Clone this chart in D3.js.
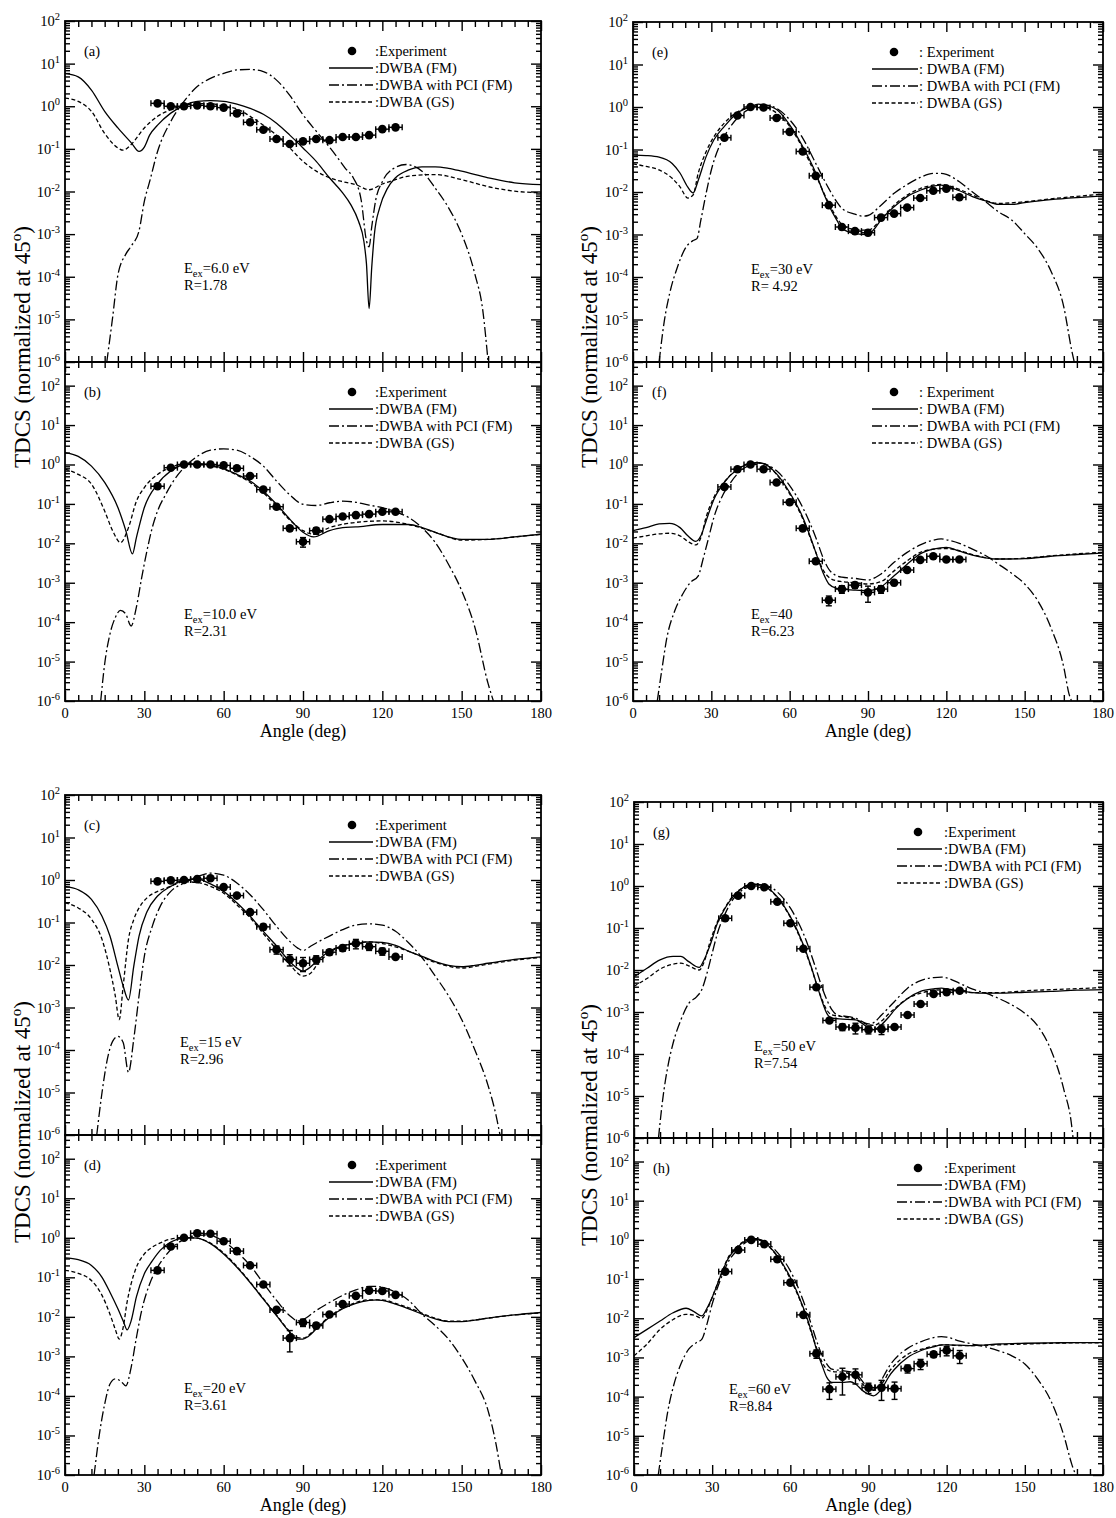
<!DOCTYPE html>
<html>
<head>
<meta charset="utf-8">
<script src="https://cdn.jsdelivr.net/npm/d3@7"></script>
<style>
  body { margin: 0; background: #fff; }
  svg { display: block; font-family: "Liberation Serif", "Times New Roman", serif; }
</style>
</head>
<body>
<div id="chart"></div>
<script>

// ---- data: [angle (deg), TDCS] ----

var expAngles = [35, 40, 45, 50, 55, 60, 65, 70, 75, 80, 85, 90, 95, 100, 105, 110, 115, 120, 125];
var xTicks = [0, 30, 60, 90, 120, 150, 180];

// (a) Eex = 6.0 eV
var fmA = [[0,5.9],[5,4.9],[10,2.4],[15,0.76],[20,0.31],[25,0.14],[28,0.087],[30,0.11],[32,0.21],[35,0.36],[40,0.69],[45,1.05],[50,1.3],[55,1.35],[60,1.3],[65,1.12],[70,0.89],[75,0.65],[80,0.4],[85,0.21],[90,0.105],[95,0.051],[100,0.021],[105,0.0093],[108,0.005],[111,0.002],[113,6.9e-4],[114,2e-4],[115,1.8e-5],[116,1.7e-4],[117,1e-3],[119,4.2e-3],[122,0.012],[125,0.021],[130,0.032],[135,0.038],[140,0.038],[145,0.035],[150,0.03],[160,0.021],[170,0.016],[180,0.0145]];
var pciA = [[15.8,1e-6],[18,1.1e-5],[20,1.1e-4],[23,3.4e-4],[25,5.2e-4],[28,1.2e-3],[30,5.9e-3],[32,0.017],[35,0.087],[40,0.44],[45,1.3],[50,2.9],[55,4.5],[60,5.9],[65,7.1],[70,7.3],[75,6.5],[80,4.1],[85,1.8],[90,0.63],[95,0.26],[100,0.11],[103,0.063],[106,0.035],[109,0.021],[112,6.3e-3],[114,7e-4],[115,5e-4],[116,1.5e-3],[117.5,6.3e-3],[120,0.017],[124,0.034],[129,0.043],[132,0.039],[135,0.03],[140,0.012],[145,4.2e-3],[150,1e-3],[155,1.15e-4],[158,1.6e-5],[160,1e-6]];
var gsA = [[0,1.55],[5,1.3],[10,0.76],[15,0.23],[20,0.105],[22,0.093],[25,0.126],[30,0.31],[35,0.58],[40,0.83],[45,1.05],[50,1.15],[55,1.15],[60,1.0],[65,0.87],[70,0.58],[75,0.36],[80,0.21],[85,0.105],[90,0.051],[95,0.03],[100,0.021],[105,0.017],[110,0.0145],[115,0.011],[120,0.015],[125,0.019],[130,0.023],[140,0.025],[150,0.019],[160,0.013],[170,0.0102],[180,0.0093]];
var expA = [1.17, 1.0, 1.0, 1.05, 1.0, 0.93, 0.68, 0.42, 0.28, 0.17, 0.13, 0.15, 0.17, 0.16, 0.19, 0.19, 0.21, 0.29, 0.32];
var errA = [0, 0, 0, 0, 0, 0, 0, 0, 0, 0, 0, 0, 0, 0, 0, 0, 0, 0, 0];

// (b) Eex = 10.0 eV
var fmB = [[0,2.0],[5,1.6],[10,0.91],[15,0.35],[20,0.081],[23,0.021],[25.5,5.4e-3],[27,0.014],[30,0.081],[35,0.32],[40,0.68],[45,1.0],[50,1.05],[55,0.98],[60,0.79],[65,0.56],[70,0.38],[75,0.21],[80,0.098],[85,0.041],[90,0.019],[94,0.0145],[100,0.021],[105,0.025],[110,0.026],[120,0.03],[130,0.03],[135,0.025],[140,0.019],[150,0.0126],[160,0.0126],[170,0.0145],[180,0.017]];
var pciB = [[13.5,1e-6],[15,8.7e-6],[17,5e-5],[19,1.3e-4],[21,2e-4],[23,1.6e-4],[25,8e-5],[27,2.4e-4],[29,1.35e-3],[31,6.5e-3],[33,0.025],[35,0.066],[38,0.17],[41,0.38],[45,0.83],[50,1.6],[55,2.3],[60,2.5],[65,2.3],[70,1.6],[75,0.91],[80,0.38],[85,0.17],[90,0.098],[95,0.091],[100,0.107],[105,0.117],[110,0.11],[115,0.093],[120,0.081],[125,0.063],[130,0.045],[135,0.025],[140,0.0105],[145,2.95e-3],[150,6.3e-4],[155,7.4e-5],[160,2.75e-6],[162,1e-6]];
var gsB = [[0,0.76],[5,0.56],[10,0.32],[15,0.066],[18,0.021],[21,0.0105],[24,0.025],[27,0.117],[30,0.26],[35,0.56],[40,0.83],[45,1.05],[50,1.0],[55,0.93],[60,0.76],[65,0.54],[70,0.35],[75,0.19],[80,0.089],[85,0.039],[90,0.021],[94,0.017],[100,0.025],[110,0.034],[120,0.037],[130,0.03],[140,0.019],[150,0.012],[160,0.0126],[170,0.0145],[180,0.017]];
var expB = [0.28, 0.83, 1.0, 1.0, 1.0, 0.95, 0.8, 0.51, 0.23, 0.085, 0.024, 0.011, 0.021, 0.041, 0.048, 0.052, 0.055, 0.063, 0.063];
var errB = [0, 0, 0, 0, 0, 0, 0, 0, 0, 0, 0.003, 0.003, 0.004, 0, 0, 0, 0, 0, 0];

// (c) Eex = 15 eV
var fmC = [[0,0.71],[5,0.59],[10,0.35],[14,0.14],[17,0.048],[20,9.3e-3],[22,3.2e-3],[24,1.5e-3],[26,9.3e-3],[28,0.048],[31,0.18],[35,0.42],[40,0.71],[45,1.0],[50,1.05],[55,0.81],[60,0.54],[65,0.29],[70,0.14],[75,0.062],[80,0.028],[85,0.012],[88,8.2e-3],[90,7.2e-3],[92,8.2e-3],[95,0.012],[100,0.021],[105,0.028],[110,0.032],[115,0.035],[120,0.034],[125,0.029],[130,0.021],[135,0.016],[140,0.012],[145,9.8e-3],[150,9.1e-3],[155,9.8e-3],[160,0.011],[170,0.0135],[180,0.0155]];
var pciC = [[12,1e-6],[14,1e-5],[16,6e-5],[18,1.6e-4],[20,2.1e-4],[22,1.5e-4],[24,3e-5],[26,1.8e-4],[28,1.9e-3],[30,0.016],[33,0.081],[36,0.24],[40,0.54],[45,0.85],[50,1.2],[55,1.45],[60,1.3],[65,0.85],[70,0.45],[75,0.2],[80,0.081],[85,0.036],[88,0.025],[90,0.022],[93,0.028],[95,0.033],[100,0.048],[105,0.068],[110,0.087],[115,0.093],[120,0.087],[125,0.062],[130,0.033],[135,0.015],[140,5.5e-3],[145,1.9e-3],[150,5.2e-4],[155,1e-4],[160,1.45e-5],[163,2.9e-6],[164.5,1e-6]];
var gsC = [[0,0.29],[5,0.22],[10,0.12],[14,0.04],[17,7.9e-3],[19,1.9e-3],[20.5,5.2e-4],[22,3.2e-3],[24,0.04],[26,0.117],[28,0.22],[31,0.38],[35,0.54],[40,0.71],[45,0.91],[50,0.87],[55,0.71],[60,0.49],[65,0.26],[70,0.129],[75,0.055],[80,0.023],[85,0.0102],[90,5.5e-3],[93,6.5e-3],[95,9.5e-3],[100,0.0195],[105,0.028],[110,0.033],[115,0.035],[120,0.032],[130,0.021],[140,0.0115],[150,8.5e-3],[160,0.0105],[170,0.013],[180,0.015]];
var expC = [0.93, 0.98, 1.0, 1.05, 1.1, 0.68, 0.43, 0.175, 0.079, 0.023, 0.0135, 0.011, 0.0135, 0.02, 0.025, 0.032, 0.027, 0.021, 0.0155];
var errC = [0, 0, 0, 0, 0, 0, 0, 0.02, 0.012, 0.005, 0.004, 0.004, 0.003, 0.003, 0.004, 0.008, 0.005, 0.004, 0];

// (d) Eex = 20 eV
var fmD = [[0,0.31],[5,0.28],[10,0.2],[14,0.1],[17,0.042],[20,0.016],[22,7.9e-3],[23.5,4.7e-3],[25,7.9e-3],[27,0.032],[30,0.123],[33,0.26],[36,0.48],[40,0.78],[45,0.98],[48,1.0],[50,0.98],[55,0.71],[60,0.39],[65,0.18],[70,0.074],[75,0.028],[80,0.0107],[85,4.1e-3],[88,2.75e-3],[90,2.75e-3],[92,3.2e-3],[95,4.9e-3],[100,9.8e-3],[105,0.016],[110,0.022],[115,0.026],[118,0.027],[120,0.026],[125,0.021],[130,0.016],[135,0.0117],[140,8.9e-3],[145,7.6e-3],[150,7.6e-3],[155,8.3e-3],[160,9.3e-3],[170,0.0112],[180,0.0129]];
var pciD = [[11,1e-6],[13,1.07e-5],[15,6.2e-5],[17,2e-4],[19,2.7e-4],[21,2.4e-4],[23,1.8e-4],[25,5.2e-4],[27,3e-3],[29,0.0145],[32,0.068],[35,0.18],[38,0.35],[42,0.68],[45,0.91],[50,1.15],[53,1.17],[55,1.15],[60,0.81],[65,0.44],[70,0.2],[75,0.071],[80,0.026],[85,0.0107],[88,7.9e-3],[90,8.5e-3],[95,0.0145],[100,0.023],[105,0.035],[110,0.048],[115,0.059],[118,0.059],[120,0.056],[125,0.042],[130,0.026],[135,0.0117],[140,6e-3],[145,2.75e-3],[150,9.3e-4],[155,2.4e-4],[160,4.2e-5],[163,6e-6],[165,1e-6]];
var gsD = [[0,0.15],[5,0.126],[10,0.083],[14,0.035],[17,0.0117],[19,4.9e-3],[20.5,2.75e-3],[22,5.4e-3],[23.5,0.024],[25,0.068],[27,0.18],[30,0.39],[33,0.58],[36,0.74],[40,0.93],[45,1.0],[48,1.0],[50,0.98],[55,0.74],[60,0.41],[65,0.19],[70,0.076],[75,0.029],[80,0.011],[85,4.3e-3],[88,3.0e-3],[90,2.9e-3],[95,5.2e-3],[100,0.0102],[105,0.0165],[110,0.023],[115,0.027],[120,0.027],[125,0.022],[130,0.017],[140,9.3e-3],[145,7.8e-3],[150,7.8e-3],[160,9.3e-3],[170,0.0112],[180,0.0126]];
var expD = [0.15, 0.6, 1.0, 1.3, 1.26, 0.82, 0.46, 0.2, 0.066, 0.015, 0.0029, 0.0072, 0.006, 0.0115, 0.021, 0.034, 0.046, 0.045, 0.036];
var errD = [0, 0, 0, 0, 0, 0, 0, 0, 0, 0, 0.0016, 0.0015, 0.001, 0, 0, 0, 0, 0, 0];

// (e) Eex = 30 eV
var fmE = [[0,0.074],[5,0.072],[10,0.066],[15,0.047],[18,0.028],[21,0.013],[23,9.5e-3],[25,0.019],[28,0.068],[31,0.17],[35,0.35],[40,0.72],[45,1.02],[48,1.17],[50,1.12],[55,0.87],[60,0.38],[65,0.117],[70,0.028],[73,9.3e-3],[75,4.9e-3],[78,2.2e-3],[80,1.4e-3],[85,1.05e-3],[90,1.0e-3],[93,1.5e-3],[95,2.2e-3],[100,4.5e-3],[105,7.8e-3],[110,0.011],[115,0.0138],[118,0.0145],[120,0.0138],[125,0.0107],[130,7.8e-3],[135,6.2e-3],[140,5.1e-3],[145,5.1e-3],[150,5.6e-3],[160,6.6e-3],[170,7.4e-3],[180,8.1e-3]];
var pciE = [[10,1e-6],[12,9.3e-6],[14,4e-5],[17,1.7e-4],[20,4.7e-4],[23,7.2e-4],[24.5,8e-4],[26,2.2e-3],[28,9.3e-3],[30,0.033],[33,0.117],[36,0.26],[40,0.55],[45,0.93],[50,1.12],[53,1.05],[55,0.93],[60,0.5],[65,0.186],[70,0.047],[75,0.012],[78,5.9e-3],[80,4.1e-3],[85,3.0e-3],[88,2.7e-3],[90,2.8e-3],[95,4.9e-3],[100,9.3e-3],[105,0.015],[110,0.022],[115,0.0275],[118,0.0275],[120,0.026],[125,0.0174],[130,0.01],[135,5.9e-3],[140,3.4e-3],[145,2.2e-3],[150,1.05e-3],[155,4.7e-4],[160,1.4e-4],[165,1.95e-5],[168,1.9e-6],[169,1e-6]];
var gsE = [[0,0.046],[5,0.04],[10,0.033],[15,0.021],[18,0.0132],[21,7.2e-3],[23,8.5e-3],[25,0.028],[28,0.089],[31,0.2],[35,0.42],[40,0.76],[45,1.02],[48,1.05],[50,1.02],[55,0.72],[60,0.35],[65,0.107],[70,0.025],[75,5.4e-3],[80,1.74e-3],[85,1.3e-3],[90,1.26e-3],[95,2.3e-3],[100,4.9e-3],[110,0.012],[118,0.015],[125,0.0115],[130,8.5e-3],[140,5.4e-3],[150,5.9e-3],[160,6.9e-3],[170,7.9e-3],[180,8.9e-3]];
var expE = [0.19, 0.63, 1.0, 0.97, 0.55, 0.26, 0.09, 0.024, 4.9e-3, 1.5e-3, 1.2e-3, 1.1e-3, 2.5e-3, 3.1e-3, 4.3e-3, 7.2e-3, 0.0107, 0.012, 7.5e-3];
var errE = [0, 0, 0, 0, 0, 0, 0, 0, 0, 2e-4, 1.5e-4, 1.5e-4, 0, 0, 0, 0, 0, 0, 0];

// (f) Eex = 40 eV
var fmF = [[0,0.021],[5,0.025],[10,0.031],[14,0.032],[18,0.025],[21,0.0155],[24,0.0112],[26,0.0155],[28,0.037],[31,0.132],[35,0.355],[40,0.76],[45,1.07],[47,1.12],[50,1.05],[55,0.58],[60,0.195],[65,0.046],[68,0.0141],[70,5.9e-3],[73,1.66e-3],[75,9.3e-4],[78,7.2e-4],[80,6.9e-4],[85,6.5e-4],[90,6.3e-4],[95,7.9e-4],[100,1.5e-3],[105,2.95e-3],[110,5.4e-3],[115,7.1e-3],[120,7.9e-3],[125,6.3e-3],[130,5e-3],[135,4.3e-3],[140,4e-3],[150,4.1e-3],[160,4.7e-3],[170,5.2e-3],[180,5.7e-3]];
var pciF = [[9.3,1e-6],[11,5.9e-6],[13,4.1e-5],[16,1.95e-4],[19,5.1e-4],[22,1.02e-3],[25,1.5e-3],[27,4.4e-3],[29,0.0141],[31,0.046],[34,0.148],[37,0.32],[40,0.58],[45,0.98],[48,1.1],[50,1.05],[55,0.69],[60,0.29],[65,0.081],[70,0.0141],[73,4e-3],[75,2.2e-3],[78,1.5e-3],[80,1.38e-3],[85,1.29e-3],[90,1.17e-3],[93,1.38e-3],[95,1.66e-3],[100,3.3e-3],[105,5.9e-3],[110,9.1e-3],[115,0.012],[118,0.0129],[120,0.0123],[125,0.01],[130,7.1e-3],[135,4.9e-3],[140,2.95e-3],[145,1.74e-3],[150,9.3e-4],[155,3.5e-4],[160,7.4e-5],[165,7.1e-6],[167,1.5e-6],[168,1e-6]];
var gsF = [[0,0.0135],[5,0.0155],[10,0.0174],[14,0.018],[18,0.0155],[21,0.0112],[24,9.1e-3],[26,0.014],[28,0.046],[31,0.148],[35,0.36],[40,0.76],[45,1.07],[47,1.1],[50,1.05],[55,0.56],[60,0.18],[65,0.042],[68,0.0132],[70,5.9e-3],[73,2e-3],[75,1.38e-3],[78,1.12e-3],[80,1.07e-3],[85,1.0e-3],[90,9.3e-4],[95,1.07e-3],[100,2e-3],[105,3.6e-3],[110,5.9e-3],[115,7.1e-3],[120,7.4e-3],[125,6.5e-3],[130,5.2e-3],[140,4e-3],[150,4.2e-3],[160,4.8e-3],[170,5.4e-3],[180,5.9e-3]];
var expF = [0.27, 0.76, 1.0, 0.76, 0.35, 0.11, 0.024, 3.5e-3, 3.6e-4, 6.9e-4, 8.7e-4, 5.7e-4, 6.9e-4, 1.0e-3, 2.1e-3, 3.8e-3, 4.7e-3, 3.9e-3, 3.9e-3];
var errF = [0, 0, 0, 0, 0, 0, 0, 0, 1e-4, 1.5e-4, 1.5e-4, 2.5e-4, 1.5e-4, 1.5e-4, 0, 0, 0, 0, 0];

// (g) Eex = 50 eV
var fmG = [[0,6.9e-3],[5,0.011],[10,0.0174],[15,0.021],[18,0.021],[21,0.0158],[25,0.0115],[27,0.018],[29,0.036],[32,0.129],[35,0.3],[38,0.55],[42,0.93],[45,1.1],[47,1.1],[50,1.0],[55,0.55],[60,0.186],[65,0.04],[68,0.012],[70,4.8e-3],[72,1.95e-3],[74,9.3e-4],[76,7.1e-4],[80,6.8e-4],[85,6.5e-4],[90,4.2e-4],[92,3.8e-4],[95,5e-4],[98,7.9e-4],[100,1.12e-3],[105,2.1e-3],[110,3.1e-3],[115,3.55e-3],[118,3.7e-3],[120,3.55e-3],[125,3.2e-3],[130,2.9e-3],[135,2.8e-3],[140,2.8e-3],[150,2.95e-3],[160,3.1e-3],[170,3.3e-3],[180,3.4e-3]];
var pciG = [[9.4,1e-6],[11,8.1e-6],[13,5.1e-5],[15,1.8e-4],[18,6.5e-4],[21,1.6e-3],[24,2.3e-3],[26,3.4e-3],[28,8.3e-3],[30,0.025],[32,0.074],[35,0.22],[38,0.48],[42,0.83],[45,1.0],[48,1.1],[50,1.07],[55,0.72],[60,0.3],[65,0.074],[70,0.01],[72,4.1e-3],[74,1.95e-3],[76,1.12e-3],[78,8.5e-4],[80,8.1e-4],[85,7.1e-4],[90,5.2e-4],[92,5.6e-4],[95,8.5e-4],[100,1.78e-3],[105,3.7e-3],[110,5.6e-3],[115,6.6e-3],[118,6.8e-3],[120,6.5e-3],[125,4.8e-3],[130,3.5e-3],[135,2.8e-3],[140,2.1e-3],[145,1.48e-3],[150,9.3e-4],[155,4.6e-4],[160,1.26e-4],[165,1.4e-5],[168,1.9e-6],[168.5,1e-6]];
var gsG = [[0,4.1e-3],[5,6.3e-3],[10,0.0105],[15,0.0138],[18,0.0145],[21,0.0126],[25,0.01],[27,0.016],[29,0.043],[32,0.14],[35,0.31],[38,0.58],[42,0.93],[45,1.05],[47,1.07],[50,0.98],[55,0.53],[60,0.18],[65,0.037],[68,0.0115],[70,4.7e-3],[72,2.1e-3],[74,1.12e-3],[76,8.5e-4],[80,7.8e-4],[85,6.7e-4],[90,5e-4],[92,4.8e-4],[95,6.1e-4],[98,9.3e-4],[100,1.2e-3],[105,2.1e-3],[110,2.8e-3],[115,3.3e-3],[120,3.4e-3],[125,3.2e-3],[130,2.9e-3],[140,2.9e-3],[150,3.2e-3],[160,3.4e-3],[170,3.6e-3],[180,3.8e-3]];
var expG = [0.17, 0.59, 1.0, 0.93, 0.42, 0.13, 0.032, 3.9e-3, 6.3e-4, 4.4e-4, 4.2e-4, 3.8e-4, 3.9e-4, 4.4e-4, 8.5e-4, 1.55e-3, 2.7e-3, 2.95e-3, 3.2e-3];
var errG = [0, 0, 0, 0, 0, 0, 0, 0, 0, 0.8e-4, 1.2e-4, 0.8e-4, 1e-4, 0, 0, 0, 0, 0, 0];

// (h) Eex = 60 eV
var fmH = [[0,3.2e-3],[5,5.2e-3],[10,8.5e-3],[15,0.0138],[20,0.018],[23,0.0148],[26,0.0115],[28,0.018],[30,0.034],[33,0.11],[36,0.32],[40,0.68],[43,0.95],[45,1.07],[47,1.07],[50,0.87],[55,0.39],[60,0.11],[65,0.0186],[68,4.8e-3],[70,1.62e-3],[72,6.8e-4],[74,3.1e-4],[76,2.3e-4],[80,2.3e-4],[83,2.4e-4],[85,2.1e-4],[88,1.38e-4],[90,1.15e-4],[92,1.05e-4],[94,1.3e-4],[96,2.0e-4],[98,3.4e-4],[100,5e-4],[105,1e-3],[110,1.48e-3],[115,1.86e-3],[118,2.1e-3],[120,2.1e-3],[125,2.05e-3],[130,2e-3],[135,2.1e-3],[140,2.2e-3],[150,2.3e-3],[160,2.35e-3],[170,2.4e-3],[180,2.4e-3]];
var pciH = [[9.3,1e-6],[11,6e-6],[13,4.3e-5],[15,1.7e-4],[18,6.8e-4],[21,1.62e-3],[24,2.4e-3],[26,2.9e-3],[28,7.1e-3],[30,0.023],[33,0.089],[36,0.26],[40,0.58],[43,0.87],[46,1.02],[48,1.02],[50,0.93],[55,0.48],[60,0.162],[65,0.0275],[68,7.1e-3],[70,2.75e-3],[72,1.2e-3],[74,6.8e-4],[76,5e-4],[80,4.6e-4],[85,3.9e-4],[88,2.3e-4],[90,1.55e-4],[92,1.55e-4],[94,2.0e-4],[96,3.5e-4],[98,6e-4],[100,8.9e-4],[105,1.7e-3],[110,2.5e-3],[115,3.2e-3],[118,3.4e-3],[120,3.3e-3],[125,2.6e-3],[130,2.2e-3],[135,1.86e-3],[140,1.48e-3],[145,1.1e-3],[150,6.8e-4],[155,2.75e-4],[160,7.8e-5],[165,1e-5],[168,1.9e-6],[169.5,1e-6]];
var gsH = [[0,1.1e-3],[5,2.2e-3],[10,5.2e-3],[15,9.3e-3],[20,0.0126],[23,0.012],[26,0.01],[28,0.016],[30,0.034],[33,0.112],[36,0.34],[40,0.72],[43,0.98],[45,1.07],[47,1.05],[50,0.83],[55,0.38],[60,0.1],[65,0.0174],[68,4.4e-3],[70,1.8e-3],[72,8.1e-4],[74,5e-4],[76,4.4e-4],[80,4.2e-4],[85,3.4e-4],[88,2.0e-4],[90,1.55e-4],[92,1.45e-4],[94,1.7e-4],[96,2.6e-4],[98,4.4e-4],[100,6.3e-4],[105,1.2e-3],[110,1.6e-3],[115,1.95e-3],[120,2.1e-3],[125,2.0e-3],[130,2.0e-3],[140,2.1e-3],[150,2.2e-3],[160,2.3e-3],[170,2.35e-3],[180,2.35e-3]];
var expH = [0.155, 0.55, 1.0, 0.78, 0.32, 0.081, 0.0122, 1.25e-3, 1.55e-4, 3.2e-4, 3.6e-4, 1.7e-4, 1.7e-4, 1.6e-4, 5.2e-4, 6.9e-4, 1.2e-3, 1.5e-3, 1.1e-3];
var errH = [0, 0, 0, 0, 0, 0, 0, 3e-4, 0.7e-4, 2.1e-4, 1.5e-4, 0.5e-4, 0.9e-4, 0.75e-4, 1.2e-4, 2e-4, 2e-4, 4e-4, 4e-4];

var legendLabels = [":Experiment", ":DWBA (FM)", ":DWBA with PCI (FM)", ":DWBA (GS)"];
var legendLabelsSpaced = [": Experiment", ": DWBA (FM)", ": DWBA with PCI (FM)", ": DWBA (GS)"];

// ---- layout ----

var legLeft  = { mk: 287, l0: 264, l1: 308, tx: 310, labels: legendLabels };
var legRight = { mk: 261, l0: 239, l1: 285, tx: 286, labels: legendLabelsSpaced };
var legLow   = { mk: 284, l0: 263, l1: 308, tx: 310, labels: legendLabels };

var panels = [
	{ id: "a", x0: 65,  x1: 541,  y0: 21,   y1: 362,  top: 2,   fm: fmA, pci: pciA, gs: gsA, exp: expA, err: errA, eex: "=6.0 eV",  r: "R=1.78",  ann: 119, leg: legLeft,  xlab: false },
	{ id: "b", x0: 65,  x1: 541,  y0: 362,  y1: 701,  top: 2.6, fm: fmB, pci: pciB, gs: gsB, exp: expB, err: errB, eex: "=10.0 eV", r: "R=2.31",  ann: 119, leg: legLeft,  xlab: true },
	{ id: "e", x0: 633, x1: 1103, y0: 22,   y1: 362,  top: 2,   fm: fmE, pci: pciE, gs: gsE, exp: expE, err: errE, eex: "=30 eV",   r: "R= 4.92", ann: 118, leg: legRight, xlab: false },
	{ id: "f", x0: 633, x1: 1103, y0: 362,  y1: 701,  top: 2.6, fm: fmF, pci: pciF, gs: gsF, exp: expF, err: errF, eex: "=40",      r: "R=6.23",  ann: 118, leg: legRight, xlab: true },
	{ id: "c", x0: 65,  x1: 541,  y0: 795,  y1: 1135, top: 2,   fm: fmC, pci: pciC, gs: gsC, exp: expC, err: errC, eex: "=15 eV",   r: "R=2.96",  ann: 115, leg: legLeft,  xlab: false },
	{ id: "d", x0: 65,  x1: 541,  y0: 1135, y1: 1475, top: 2.6, fm: fmD, pci: pciD, gs: gsD, exp: expD, err: errD, eex: "=20 eV",   r: "R=3.61",  ann: 119, leg: legLeft,  xlab: true },
	{ id: "g", x0: 634, x1: 1103, y0: 802,  y1: 1138, top: 2,   fm: fmG, pci: pciG, gs: gsG, exp: expG, err: errG, eex: "=50 eV",   r: "R=7.54",  ann: 120, leg: legLow,   xlab: false },
	{ id: "h", x0: 634, x1: 1103, y0: 1138, y1: 1475, top: 2.6, fm: fmH, pci: pciH, gs: gsH, exp: expH, err: errH, eex: "=60 eV",   r: "R=8.84",  ann: 95,  leg: legLow,   xlab: true }
];

// y titles: [baseline x, centre y]
var titles = [[30, 347], [30, 1122], [597, 347], [597, 1125]];

var styles = {
	fm:  null,
	pci: "10,3,2,3",
	gs:  "4,2.5"
};

var svg = d3.select("#chart").append("svg")
	.attr("width", 1116)
	.attr("height", 1518);

svg.append("rect").attr("width", 1116).attr("height", 1518).attr("fill", "#fff");

// decade and minor tick values
var decades = d3.range(-6, 3).map(function(e) { return Math.pow(10, e); });
var minorAll = [];
d3.range(-6, 3).forEach(function(e) {
	d3.range(2, 10).forEach(function(m) { minorAll.push(m * Math.pow(10, e)); });
});
var xMinor = d3.range(0, 181, 5).filter(function(d) { return d % 30 !== 0; });

function tidy(sel) {
	sel.select(".domain").remove();
	sel.selectAll("line").attr("stroke", "#000").attr("stroke-width", 1.4);
}

panels.forEach(function(p) {
	var x = d3.scaleLinear().domain([0, 180]).range([p.x0, p.x1]);
	var y = d3.scaleLog().domain([1e-6, Math.pow(10, p.top)]).range([p.y1, p.y0]);
	var yMax = Math.pow(10, p.top);
	var minorY = minorAll.filter(function(v) { return v < yMax; });

	var g = svg.append("g").attr("class", "panel-" + p.id);

	g.append("clipPath").attr("id", "clip-" + p.id)
		.append("rect")
		.attr("x", p.x0).attr("y", p.y0)
		.attr("width", p.x1 - p.x0).attr("height", p.y1 - p.y0);

	// ticks on all four sides, pointing inward
	g.append("g").attr("transform", "translate(0," + p.y1 + ")")
		.call(d3.axisBottom(x).tickValues(xTicks).tickSizeInner(-10).tickSizeOuter(0).tickFormat("")).call(tidy);
	g.append("g").attr("transform", "translate(0," + p.y1 + ")")
		.call(d3.axisBottom(x).tickValues(xMinor).tickSizeInner(-6).tickSizeOuter(0).tickFormat("")).call(tidy);
	g.append("g").attr("transform", "translate(0," + p.y0 + ")")
		.call(d3.axisTop(x).tickValues(xTicks).tickSizeInner(-10).tickSizeOuter(0).tickFormat("")).call(tidy);
	g.append("g").attr("transform", "translate(0," + p.y0 + ")")
		.call(d3.axisTop(x).tickValues(xMinor).tickSizeInner(-6).tickSizeOuter(0).tickFormat("")).call(tidy);

	g.append("g").attr("transform", "translate(" + p.x0 + ",0)")
		.call(d3.axisLeft(y).tickValues(decades).tickSizeInner(-10).tickSizeOuter(0).tickFormat("")).call(tidy);
	g.append("g").attr("transform", "translate(" + p.x0 + ",0)")
		.call(d3.axisLeft(y).tickValues(minorY).tickSizeInner(-5).tickSizeOuter(0).tickFormat("")).call(tidy);
	g.append("g").attr("transform", "translate(" + p.x1 + ",0)")
		.call(d3.axisRight(y).tickValues(decades).tickSizeInner(-10).tickSizeOuter(0).tickFormat("")).call(tidy);
	g.append("g").attr("transform", "translate(" + p.x1 + ",0)")
		.call(d3.axisRight(y).tickValues(minorY).tickSizeInner(-5).tickSizeOuter(0).tickFormat("")).call(tidy);

	// frame
	g.append("rect")
		.attr("x", p.x0).attr("y", p.y0)
		.attr("width", p.x1 - p.x0).attr("height", p.y1 - p.y0)
		.attr("fill", "none").attr("stroke", "#000").attr("stroke-width", 1.8);

	// y tick labels 10^n
	decades.forEach(function(v, i) {
		var t = g.append("text")
			.attr("x", p.x0 - 5)
			.attr("y", y(v) + 5)
			.attr("text-anchor", "end")
			.attr("font-size", 14.5);
		t.append("tspan").text("10");
		t.append("tspan").attr("dy", -6).attr("font-size", 10.5).text(i - 6);
	});

	// x tick labels only under the lower panel of each pair
	if (p.xlab) {
		g.selectAll(".xl").data(xTicks).enter().append("text")
			.attr("x", function(d) { return x(d); })
			.attr("y", p.y1 + 17)
			.attr("text-anchor", "middle")
			.attr("font-size", 14.5)
			.text(function(d) { return d; });

		g.append("text")
			.attr("x", (p.x0 + p.x1) / 2)
			.attr("y", p.y1 + 36)
			.attr("text-anchor", "middle")
			.attr("font-size", 18)
			.text("Angle (deg)");
	}

	// theory curves
	var line = d3.line()
		.curve(d3.curveMonotoneX)
		.x(function(d) { return x(d[0]); })
		.y(function(d) { return y(d[1]); });

	var curves = g.append("g").attr("clip-path", "url(#clip-" + p.id + ")");
	["gs", "fm", "pci"].forEach(function(k) {
		curves.append("path")
			.datum(p[k])
			.attr("d", line)
			.attr("fill", "none")
			.attr("stroke", "#000")
			.attr("stroke-width", 1.3)
			.attr("stroke-dasharray", styles[k]);
	});

	// experiment with error bars
	var pts = expAngles.map(function(a, i) { return { a: a, v: p.exp[i], e: p.err[i] }; });
	var eb = g.append("g").attr("stroke", "#000").attr("stroke-width", 1.4);
	pts.forEach(function(d) {
		var cy = y(d.v), xl = x(d.a - 2.5), xr = x(d.a + 2.5);
		eb.append("line").attr("x1", xl).attr("x2", xr).attr("y1", cy).attr("y2", cy);
		eb.append("line").attr("x1", xl).attr("x2", xl).attr("y1", cy - 3).attr("y2", cy + 3);
		eb.append("line").attr("x1", xr).attr("x2", xr).attr("y1", cy - 3).attr("y2", cy + 3);
		if (d.e > 0) {
			var yt = y(d.v + d.e), yb = y(Math.max(d.v - d.e, 1e-6));
			var cx = x(d.a);
			eb.append("line").attr("x1", cx).attr("x2", cx).attr("y1", yt).attr("y2", yb);
			eb.append("line").attr("x1", cx - 3).attr("x2", cx + 3).attr("y1", yt).attr("y2", yt);
			eb.append("line").attr("x1", cx - 3).attr("x2", cx + 3).attr("y1", yb).attr("y2", yb);
		}
	});
	g.selectAll(".pt").data(pts).enter().append("circle")
		.attr("cx", function(d) { return x(d.a); })
		.attr("cy", function(d) { return y(d.v); })
		.attr("r", 4.3)
		.attr("fill", "#000");

	// panel label, legend
	var row0 = p.y0 + 30;
	g.append("text")
		.attr("x", p.x0 + 19).attr("y", row0 + 5)
		.attr("font-size", 14.5)
		.text("(" + p.id + ")");

	var L = p.leg;
	var leg = g.append("g");
	leg.append("circle").attr("cx", p.x0 + L.mk).attr("cy", row0).attr("r", 4.3).attr("fill", "#000");
	["fm", "pci", "gs"].forEach(function(k, i) {
		var yy = row0 + 17 * (i + 1);
		leg.append("line")
			.attr("x1", p.x0 + L.l0).attr("x2", p.x0 + L.l1)
			.attr("y1", yy).attr("y2", yy)
			.attr("stroke", "#000").attr("stroke-width", 1.3)
			.attr("stroke-dasharray", styles[k]);
	});
	L.labels.forEach(function(s, i) {
		leg.append("text")
			.attr("x", p.x0 + L.tx)
			.attr("y", row0 + 17 * i + 5)
			.attr("font-size", 14.5)
			.text(s);
	});

	// energy / ratio note
	var ya = y(Math.pow(10, -3.8)) + 5;
	var note = g.append("text")
		.attr("x", p.x0 + p.ann).attr("y", ya)
		.attr("font-size", 14.5);
	note.append("tspan").text("E");
	note.append("tspan").attr("dy", 4).attr("font-size", 10.5).text("ex");
	note.append("tspan").attr("dy", -4).text(p.eex);
	g.append("text")
		.attr("x", p.x0 + p.ann).attr("y", ya + 17)
		.attr("font-size", 14.5)
		.text(p.r);
});

// y-axis titles, one per pair of panels
titles.forEach(function(c) {
	var t = svg.append("text")
		.attr("transform", "translate(" + c[0] + "," + c[1] + ") rotate(-90)")
		.attr("text-anchor", "middle")
		.attr("font-size", 23);
	t.append("tspan").text("TDCS (normalized at 45");
	t.append("tspan").attr("dy", -9).attr("font-size", 15).text("o");
	t.append("tspan").attr("dy", 9).text(")");
});

</script>
</body>
</html>
